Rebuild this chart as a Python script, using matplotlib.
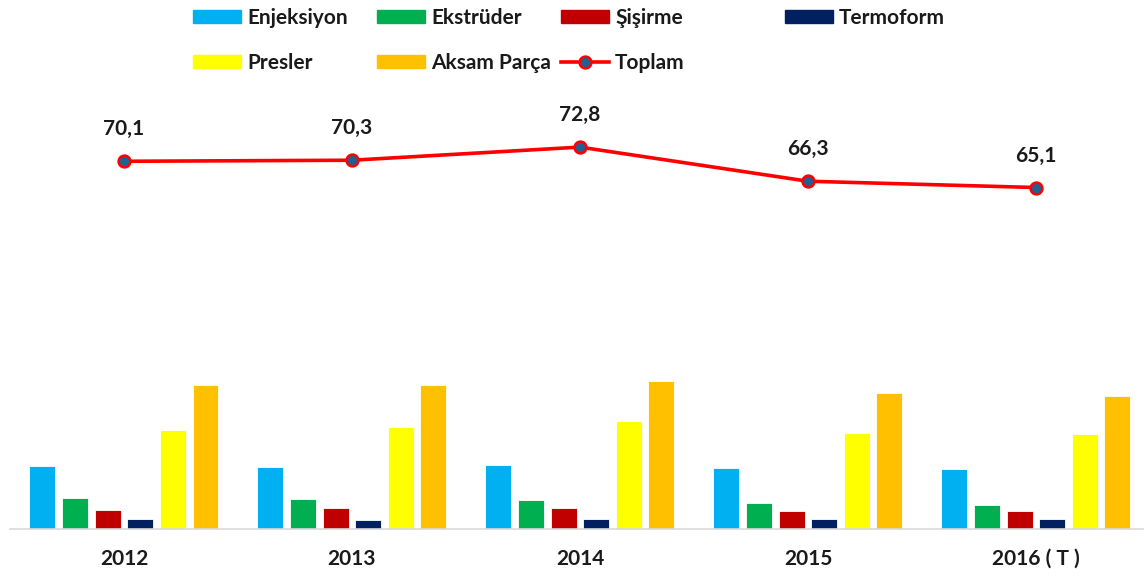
import numpy as np
import matplotlib.pyplot as plt
from matplotlib.patches import Patch
from matplotlib.lines import Line2D

plt.rcParams['font.family'] = ['Lato', 'DejaVu Sans']

# Datos
years = ['2012', '2013', '2014', '2015', '2016 ( T )']
enjeksiyon = [12.0, 11.8, 12.3, 11.6, 11.5]
ekstruder = [5.9, 5.8, 5.5, 5.0, 4.7]
sisirme = [3.7, 4.0, 4.0, 3.5, 3.4]
termoform = [2.0, 1.8, 2.0, 2.0, 2.0]
presler = [19.0, 19.4, 20.7, 18.3, 18.2]
aksam = [27.5, 27.5, 28.3, 25.9, 25.3]
toplam = [70.1, 70.3, 72.8, 66.3, 65.1]

series = [
    ('Enjeksiyon', enjeksiyon, '#00B0F0'),
    ('Ekstrüder', ekstruder, '#00B050'),
    ('Şişirme', sisirme, '#C00000'),
    ('Termoform', termoform, '#002060'),
    ('Presler', presler, '#FFFF00'),
    ('Aksam Parça', aksam, '#FFC000'),
]

fig = plt.figure(figsize=(11.44, 5.79), dpi=100)
ax = fig.add_axes([10 / 1144, 49.7 / 579, 1134 / 1144, 420 / 579])

x = np.arange(len(years))
pitch = 0.143
width = 0.114
for i, (name, vals, col) in enumerate(series):
    ax.bar(x + (i - 2.5) * pitch, vals, width, color=col, edgecolor='white',
           linewidth=0.6, label=name, zorder=2)

line_style = dict(color='#FF0000', linewidth=2.6, marker='o', markersize=8.5,
                  markerfacecolor='#255E91', markeredgecolor='#FF0000',
                  markeredgewidth=1.8)
ax.plot(x, toplam, label='Toplam', zorder=3, **line_style)

# Etiquetas de valores
for xi, v in zip(x, toplam):
    ax.annotate(f'{v:.1f}'.replace('.', ','), (xi, v), xytext=(0, 23),
                textcoords='offset points', ha='center', va='center',
                fontsize=15, fontweight='bold', color='#1a1a1a')

ax.set_xlim(-0.5, 4.474)
ax.set_ylim(0, 80)
ax.set_xticks(x)
ax.set_xticklabels(years, fontsize=15, fontweight='bold', color='#1a1a1a')
ax.tick_params(axis='x', length=0, pad=14)
ax.set_yticks([])
for s in ['top', 'right', 'left']:
    ax.spines[s].set_visible(False)
ax.spines['bottom'].set_color('#D9D9D9')
ax.spines['bottom'].set_linewidth(1.2)

# Leyenda: una columna por leyenda para fijar las posiciones
h = {n: Patch(color=c) for n, _, c in series}
h['Toplam'] = Line2D([], [], **line_style)
columns = [(['Enjeksiyon', 'Presler'], 193),
           (['Ekstrüder', 'Aksam Parça'], 377),
           (['Şişirme', 'Toplam'], 561),
           (['Termoform'], 785)]
for names, px in columns:
    fig.legend([h[n] for n in names], names, loc='upper left',
               bbox_to_anchor=(px / 1144, 1 - 8 / 579), frameon=False,
               prop={'size': 15, 'weight': 'bold'}, labelcolor='#1a1a1a',
               handlelength=2.3, handleheight=0.58, handletextpad=0.3,
               labelspacing=1.2, borderpad=0, borderaxespad=0)

fig.savefig('out.png', dpi=100)
